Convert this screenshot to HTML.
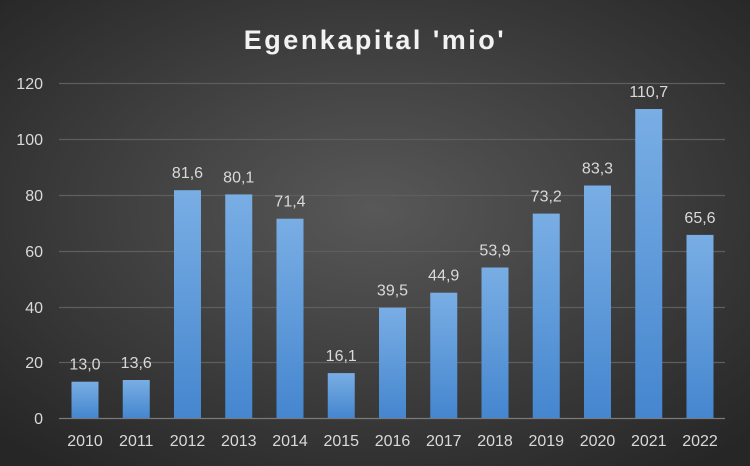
<!DOCTYPE html>
<html><head><style>
html,body{margin:0;padding:0;width:750px;height:466px;overflow:hidden;background:#333}
svg{display:block;font-family:"Liberation Sans","DejaVu Sans",sans-serif}
</style></head><body>
<svg width="750" height="466" viewBox="0 0 750 466">
<defs>
<radialGradient id="bg" cx="50%" cy="45%" r="70%">
<stop offset="0" stop-color="#585858"/><stop offset="1" stop-color="#262626"/>
</radialGradient>
<linearGradient id="bar" x1="0" y1="0" x2="0" y2="1">
<stop offset="0" stop-color="#79aee4"/><stop offset="1" stop-color="#4586cf"/>
</linearGradient>
</defs>
<rect width="750" height="466" fill="url(#bg)"/>
<text x="375" y="49" text-anchor="middle" fill="#f2f2f2" font-size="27" font-weight="bold" letter-spacing="2.5">Egenkapital 'mio'</text>
<g stroke="#5e5e5e" stroke-width="1.3">
<line x1="59" x2="725" y1="83.5" y2="83.5"/><line x1="59" x2="725" y1="139.5" y2="139.5"/>
<line x1="59" x2="725" y1="195.5" y2="195.5"/><line x1="59" x2="725" y1="251.5" y2="251.5"/>
<line x1="59" x2="725" y1="307.5" y2="307.5"/><line x1="59" x2="725" y1="362.5" y2="362.5"/>
</g>
<line x1="59" x2="725" y1="418.5" y2="418.5" stroke="#7a7a7a" stroke-width="1.3"/>
<g fill="#d9d9d9" font-size="16" text-anchor="end">
<text x="43" y="89">120</text><text x="43" y="145">100</text><text x="43" y="201">80</text>
<text x="43" y="257">60</text><text x="43" y="313">40</text><text x="43" y="368">20</text><text x="43" y="424">0</text>
</g>
<g fill="url(#bar)">
<rect x="71.5" y="381.7" width="27" height="36.3"/>
<rect x="122.75" y="380.0" width="27" height="38.0"/>
<rect x="174" y="190.2" width="27" height="227.8"/>
<rect x="225.25" y="194.4" width="27" height="223.6"/>
<rect x="276.5" y="218.7" width="27" height="199.3"/>
<rect x="327.75" y="373.1" width="27" height="44.9"/>
<rect x="379" y="307.7" width="27" height="110.3"/>
<rect x="430.25" y="292.7" width="27" height="125.3"/>
<rect x="481.5" y="267.5" width="27" height="150.5"/>
<rect x="532.75" y="213.6" width="27" height="204.4"/>
<rect x="584" y="185.5" width="27" height="232.5"/>
<rect x="635.25" y="109.0" width="27" height="309.0"/>
<rect x="686.5" y="234.9" width="27" height="183.1"/>
</g>
<g fill="#d9d9d9" font-size="16" text-anchor="middle">
<text x="85" y="369.7">13,0</text>
<text x="136.25" y="368.0">13,6</text>
<text x="187.5" y="178.2">81,6</text>
<text x="238.75" y="182.4">80,1</text>
<text x="290" y="206.7">71,4</text>
<text x="341.25" y="361.1">16,1</text>
<text x="392.5" y="295.7">39,5</text>
<text x="443.75" y="280.7">44,9</text>
<text x="495" y="255.5">53,9</text>
<text x="546.25" y="201.6">73,2</text>
<text x="597.5" y="173.5">83,3</text>
<text x="648.75" y="97.0">110,7</text>
<text x="700" y="222.9">65,6</text>
</g>
<g fill="#d9d9d9" font-size="16" text-anchor="middle">
<text x="85" y="446">2010</text><text x="136.25" y="446">2011</text><text x="187.5" y="446">2012</text>
<text x="238.75" y="446">2013</text><text x="290" y="446">2014</text><text x="341.25" y="446">2015</text>
<text x="392.5" y="446">2016</text><text x="443.75" y="446">2017</text><text x="495" y="446">2018</text>
<text x="546.25" y="446">2019</text><text x="597.5" y="446">2020</text><text x="648.75" y="446">2021</text>
<text x="700" y="446">2022</text>
</g>
</svg>
</body></html>
